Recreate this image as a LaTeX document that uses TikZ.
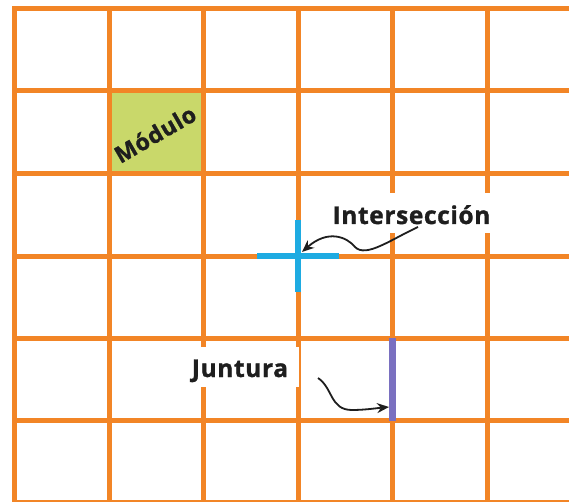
\documentclass[tikz,border=0pt]{standalone}
\usepackage{fontspec}
\newfontfamily\labfont{Open Sans}[LetterSpace=2.5,FakeBold=1.2]
\usetikzlibrary{arrows.meta}
\definecolor{gridor}{RGB}{242,133,38}
\definecolor{modgreen}{RGB}{201,216,106}
\definecolor{crossblue}{RGB}{30,171,226}
\definecolor{juntpurple}{RGB}{122,112,192}
\definecolor{ink}{RGB}{30,30,30}
\begin{document}
\begin{tikzpicture}[x=1pt,y=-1pt,
  gridline/.style={draw=gridor,line width=5pt},
  labelbox/.style={fill=white,text=ink,inner ysep=0pt,anchor=base,
    font=\labfont\bfseries\fontsize{24.5}{24.5}\selectfont},
  pointer/.style={draw=ink,line width=1.8pt,-{Stealth[length=12pt,width=10pt]}}
]
\useasboundingbox (0,0) rectangle (569,502);
\fill[white] (0,0) rectangle (569,502);
% module cell
\fill[modgreen] (109,90.5) rectangle (203.5,174);
% grid
\foreach \x in {14.5,109,203.5,298,392.5,487}
  \draw[gridline,line cap=rect] (\x,8.5) -- (\x,505);
\foreach \y in {8.5,90.5,174,256,338,420.5,502.5}
  \draw[gridline] (14.5,\y) -- (575,\y);
% intersection cross
\draw[draw=crossblue,line width=5.5pt] (257,256) -- (339,256);
\draw[draw=crossblue,line width=5.5pt] (298,220) -- (298,292);
% juntura
\draw[draw=juntpurple,line width=6.5pt] (392.5,338) -- (392.5,420.5);
% labels
\node[labelbox,inner xsep=12pt,text height=31pt,text depth=9pt] (inter) at (411.5,224) {Intersección};
\node[labelbox,inner xsep=11pt,text height=30pt,text depth=10pt] (junt) at (240,377) {Juntura};
\node[text=ink,font=\labfont\bfseries\fontsize{23}{23}\selectfont,rotate=30,inner sep=0pt] (modulo) at (155,134) {Módulo};
% arrows
\coordinate (istart) at (418,227);
\coordinate (itip) at (302,252);
\coordinate (jstart) at (318,378);
\coordinate (jtip) at (389,407);
\draw[pointer] (istart) .. controls (390,240) and (366,258) .. (355,247) .. controls (347,237) and (328,229) .. (itip);
\draw[pointer] (jstart) .. controls (333,388) and (330,410) .. (352,410) .. controls (365,410) and (378,408) .. (jtip);
\end{tikzpicture}
\end{document}
